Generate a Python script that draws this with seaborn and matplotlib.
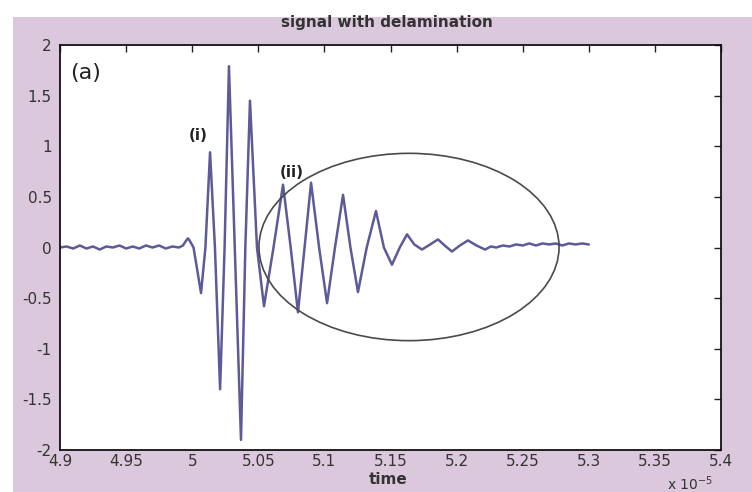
import matplotlib
matplotlib.use("Agg")
import matplotlib.pyplot as plt
from matplotlib.patches import Ellipse, Rectangle
import seaborn as sns
import pandas as pd

# ---- data (time in units of 1e-5 s) ----
time = [4.900, 4.905, 4.910, 4.915, 4.920, 4.925, 4.930, 4.935, 4.940, 4.945,
        4.950, 4.955, 4.960, 4.965, 4.970, 4.975, 4.980, 4.985, 4.990,
        4.993, 4.9955, 4.9968, 4.998, 5.0010, 5.0067, 5.0100, 5.0135, 5.0172,
        5.0211, 5.0245, 5.0278, 5.0322, 5.0369, 5.0402, 5.0437, 5.0490,
        5.0543, 5.0615, 5.0687, 5.0745, 5.0800, 5.0850, 5.0899, 5.0960,
        5.1020, 5.1080, 5.1141, 5.1197, 5.1254, 5.1320, 5.1390, 5.1450,
        5.1511, 5.1570, 5.1625, 5.1680, 5.1738, 5.1800, 5.1859, 5.1910,
        5.1965, 5.2025, 5.2086, 5.2150, 5.2215, 5.2260, 5.2300, 5.2350,
        5.2400, 5.2450, 5.2500, 5.2550, 5.2600, 5.2650, 5.2700, 5.2750,
        5.2800, 5.2850, 5.2900, 5.2950, 5.3000]
signal = [0.00, 0.01, -0.01, 0.02, -0.01, 0.01, -0.02, 0.01, 0.00, 0.02,
          -0.01, 0.01, -0.01, 0.02, 0.00, 0.02, -0.01, 0.01, 0.00,
          0.02, 0.07, 0.09, 0.07, 0.00, -0.45, 0.00, 0.94, 0.00,
          -1.40, 0.00, 1.79, 0.00, -1.90, 0.00, 1.45, 0.00,
          -0.58, 0.00, 0.62, 0.00, -0.64, 0.00, 0.64, 0.00,
          -0.55, 0.00, 0.52, 0.00, -0.44, 0.00, 0.36, 0.00,
          -0.17, 0.00, 0.13, 0.03, -0.02, 0.03, 0.08, 0.02,
          -0.04, 0.02, 0.07, 0.02, -0.02, 0.01, 0.00, 0.02,
          0.01, 0.03, 0.02, 0.04, 0.02, 0.04, 0.03, 0.04,
          0.02, 0.04, 0.03, 0.04, 0.03]

x_ticks = [4.9, 4.95, 5.0, 5.05, 5.1, 5.15, 5.2, 5.25, 5.3, 5.35, 5.4]
x_tick_labels = ["4.9", "4.95", "5", "5.05", "5.1", "5.15", "5.2", "5.25", "5.3", "5.35", "5.4"]
y_ticks = [-2, -1.5, -1, -0.5, 0, 0.5, 1, 1.5, 2]
y_tick_labels = ["-2", "-1.5", "-1", "-0.5", "0", "0.5", "1", "1.5", "2"]

title_text = "signal with delamination"
xlabel_text = "time"

df = pd.DataFrame({"time": time, "signal": signal})

sns.set_style("white")
plt.rcParams["font.family"] = ["DejaVu Sans"]

W, H = 752, 492
fig = plt.figure(figsize=(W / 100, H / 100), dpi=100)
fig.patch.set_facecolor("#dbc8dc")
# white scan margins on top and left
fig.add_artist(Rectangle((0, 1 - 17 / H), 1, 17 / H, transform=fig.transFigure,
                         facecolor="white", edgecolor="none", zorder=0))
fig.add_artist(Rectangle((0, 0), 13 / W, 1, transform=fig.transFigure,
                         facecolor="white", edgecolor="none", zorder=0))

ax = fig.add_axes([60 / W, 1 - 450 / H, (721 - 60) / W, (450 - 45) / H])
ax.set_facecolor("white")

sns.lineplot(data=df, x="time", y="signal", ax=ax, color="#5d5a98",
             linewidth=1.8, estimator=None, sort=False)

ell = Ellipse((5.164, 0.005), 0.227, 1.85, fill=False, edgecolor="#4a4a4a",
              linewidth=1.2, zorder=3)
ax.add_patch(ell)

ax.set_xlim(4.9, 5.4)
ax.set_ylim(-2, 2)
ax.set_xticks(x_ticks)
ax.set_xticklabels(x_tick_labels)
ax.set_yticks(y_ticks)
ax.set_yticklabels(y_tick_labels)
ax.set_xlabel("")
ax.set_ylabel("")
ax.tick_params(direction="in", length=5, width=1, color="#222222",
               top=True, right=True, labelsize=11, labelcolor="#333333")
ax.tick_params(axis="x", pad=3)
ax.tick_params(axis="y", pad=6)
for s in ax.spines.values():
    s.set_visible(True)
    s.set_color("#111111")
    s.set_linewidth(1.3)

ax.text(4.919, 1.72, "(a)", fontsize=16, ha="center", va="center", color="#222222")
ax.text(5.0044, 1.11, "(i)", fontsize=11, fontweight="bold", ha="center", va="center", color="#222222")
ax.text(5.0755, 0.74, "(ii)", fontsize=11, fontweight="bold", ha="center", va="center", color="#222222")

fig.text(387 / W, 1 - 22 / H, title_text, fontsize=11, fontweight="bold",
         ha="center", va="center", color="#333333")
fig.text(388 / W, 1 - 479 / H, xlabel_text, fontsize=11, fontweight="bold",
         ha="center", va="center", color="#333333")
fig.text(690 / W, 1 - 484 / H, r"x 10$^{-5}$", fontsize=10,
         ha="center", va="center", color="#333333")

fig.savefig("out.png", dpi=100, facecolor=fig.get_facecolor())
